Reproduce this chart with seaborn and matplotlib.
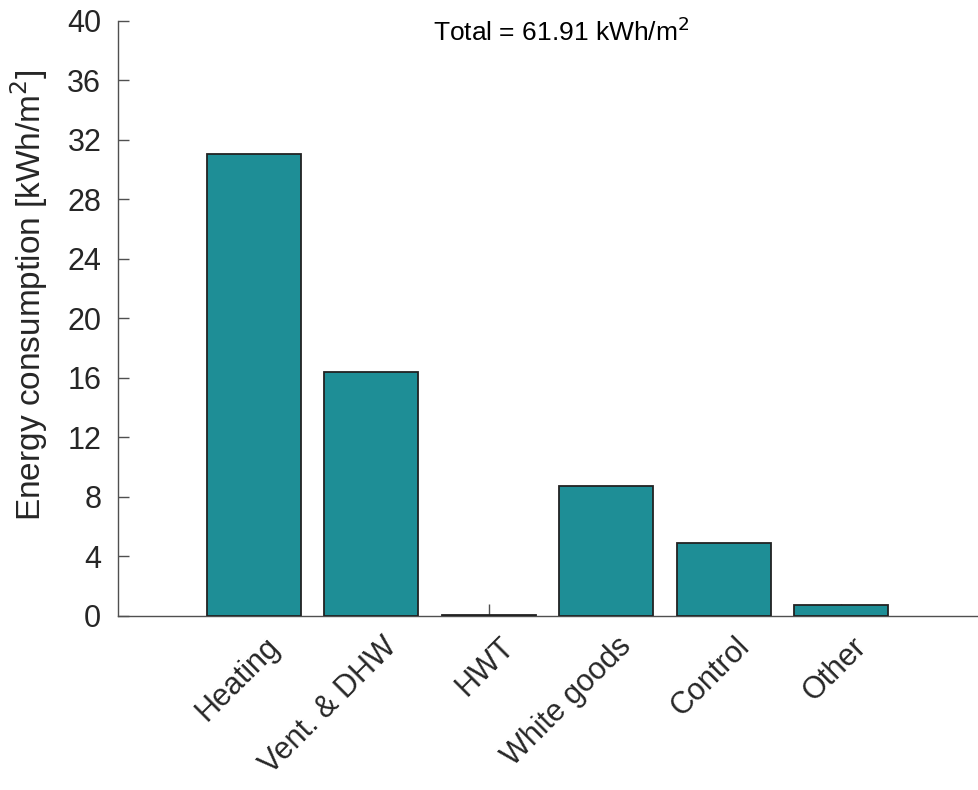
import matplotlib
matplotlib.use('Agg')
import matplotlib.pyplot as plt
import matplotlib.transforms as mtransforms
import seaborn as sns

# Data
categories = ['Heating', 'Vent. & DHW', 'HWT', 'White goods', 'Control', 'Other']
consumption = [31.08, 16.40, 0.04, 8.74, 4.93, 0.72]
total = 61.91
yticks = list(range(0, 41, 4))

sns.set_style('ticks')
plt.rcParams['font.family'] = ['Liberation Sans', 'DejaVu Sans']
txt_color = '#262626'

fig = plt.figure(figsize=(9.79, 7.90), dpi=100)
ax = fig.add_axes([0.1205, 0.2203, 0.8785, 0.7532])

sns.barplot(x=categories, y=consumption, color='#1e8e96', saturation=1,
            edgecolor='#222222', linewidth=1.3, width=0.8, ax=ax, zorder=3)

ax.set_xlim(-1.155, 6.164)
ax.set_ylim(0, 40)
ax.set_yticks(yticks)
ax.set_yticklabels([str(t) for t in yticks])
ax.set_xlabel('')
ax.set_ylabel('Energy consumption [kWh/m$^2$]', fontsize=24, color=txt_color)
ax.yaxis.set_label_coords(-0.079, 0.54)

sns.despine(ax=ax)
for side in ['left', 'bottom']:
    ax.spines[side].set_color('#505050')
    ax.spines[side].set_linewidth(1.0)
ax.tick_params(axis='y', direction='in', length=8, width=1, color='#505050',
               labelsize=22, labelcolor=txt_color, pad=12)
ax.tick_params(axis='x', direction='in', length=9, width=1, color='#505050',
               labelsize=22, labelcolor=txt_color, pad=10)

# rotated category labels, nudged right/down like the reference
offset = mtransforms.ScaledTranslation(0.21, -0.12, fig.dpi_scale_trans)
for lbl in ax.get_xticklabels():
    lbl.set_rotation(45)
    lbl.set_ha('right')
    lbl.set_va('center')
    lbl.set_rotation_mode('anchor')
    lbl.set_transform(lbl.get_transform() + offset)

ax.text(0.515, 0.982, f'Total = {total:.2f} kWh/m$^2$', transform=ax.transAxes,
        ha='center', va='center', fontsize=19, color='black')

fig.savefig('out.png', dpi=100)
